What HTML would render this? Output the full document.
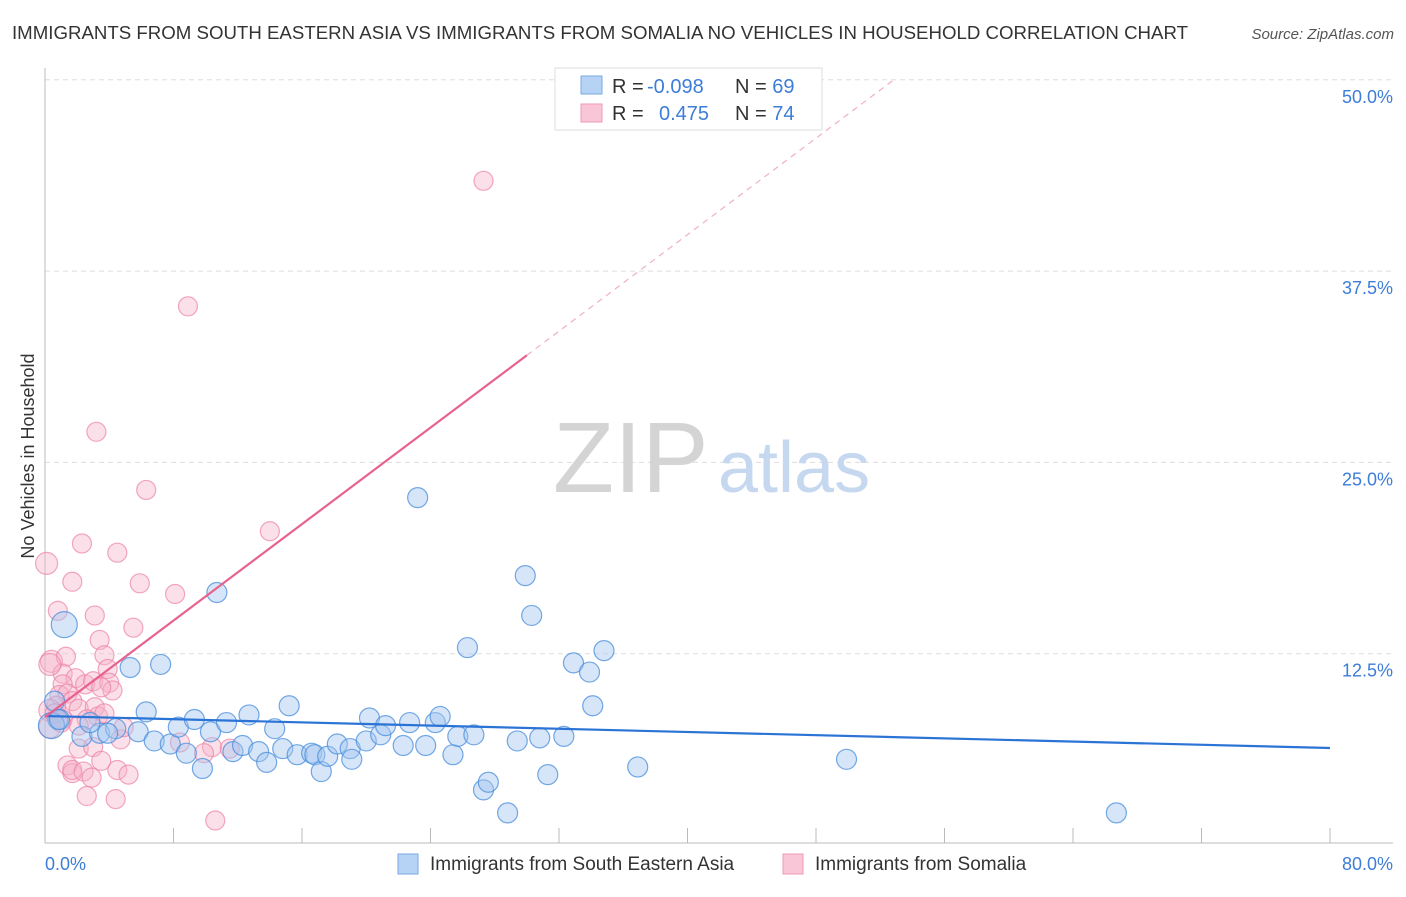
<!DOCTYPE html>
<html><head><meta charset="utf-8"><style>
body{margin:0;background:#fff;font-family:"Liberation Sans",sans-serif;}
svg text{font-family:"Liberation Sans",sans-serif;}
</style></head><body>
<svg width="1406" height="892" viewBox="0 0 1406 892">
<text x="12" y="39" font-size="18" fill="#333" textLength="1176" lengthAdjust="spacingAndGlyphs">IMMIGRANTS FROM SOUTH EASTERN ASIA VS IMMIGRANTS FROM SOMALIA NO VEHICLES IN HOUSEHOLD CORRELATION CHART</text>
<text x="1394" y="39" font-size="15" fill="#555" text-anchor="end" font-style="italic">Source: ZipAtlas.com</text>
<g id="grid"></g>
<text x="553" y="492" font-size="100" fill="#d4d4d4" font-family="Liberation Serif">ZIP</text>
<text x="718" y="492" font-size="72" fill="#c6d8f0">atlas</text>
<text transform="translate(34,456) rotate(-90)" font-size="18" fill="#333" text-anchor="middle">No Vehicles in Household</text>
<g id="pts"></g>
<g id="lines"></g>
<g>
<rect x="555" y="68" width="267" height="62" fill="#fff" stroke="#ddd"/>
<rect x="581" y="76" width="21" height="18" fill="#b6d2f5" stroke="#7aa9e6"/>
<rect x="581" y="104" width="21" height="18" fill="#f8c6d6" stroke="#ef9ab5"/>
<text x="612" y="93" font-size="20" fill="#333">R = <tspan x="647" fill="#3d7dd8">-0.098</tspan><tspan x="735">N = </tspan><tspan fill="#3d7dd8">69</tspan></text>
<text x="612" y="120" font-size="20" fill="#333">R = <tspan x="659" fill="#3d7dd8">0.475</tspan><tspan x="735">N = </tspan><tspan fill="#3d7dd8">74</tspan></text>
</g>
<g>
<rect x="398" y="854" width="20" height="20" fill="#b6d2f5" stroke="#7aa9e6"/>
<text x="430" y="870" font-size="19" fill="#333">Immigrants from South Eastern Asia</text>
<rect x="783" y="854" width="20" height="20" fill="#f8c6d6" stroke="#ef9ab5"/>
<text x="815" y="870" font-size="19" fill="#333">Immigrants from Somalia</text>
</g>
</svg>
<script>
const yTicks=[12.5,25,37.5,50];
const yTickLabels=["12.5%","25.0%","37.5%","50.0%"];
const xTickLabels=["0.0%","80.0%"];
const blueXv=[23.2,29.9,30.3,10.7,1.2,7.2,5.3,26.3,34.8,32.9,33.9,34.1,15.2,6.3,0.6,0.8,0.4,2.3,3.4,4.4,3.9,2.8,5.8,6.8,7.8,8.3,9.3,10.3,11.3,12.7,8.8,9.8,11.7,12.3,13.3,13.8,14.3,14.8,15.7,16.6,16.8,17.2,17.6,18.2,19.0,19.1,20.0,20.2,20.9,21.2,22.3,22.7,23.7,24.3,24.6,25.4,25.7,26.7,27.3,27.6,28.8,29.4,30.8,31.3,32.3,36.9,49.9,66.7,0.9];
const blueYv=[22.7,17.6,15.0,16.5,14.4,11.8,11.6,12.9,12.7,11.9,11.3,9.1,9.1,8.7,9.4,8.2,7.8,7.1,7.3,7.6,7.3,8.0,7.4,6.8,6.6,7.7,8.2,7.4,8.0,8.5,6.0,5.0,6.1,6.5,6.1,5.4,7.6,6.3,5.9,6.0,5.9,4.8,5.8,6.6,6.3,5.6,6.8,8.3,7.2,7.8,6.5,8.0,6.5,8.0,8.4,5.9,7.1,7.2,3.6,4.1,2.1,6.8,7.0,4.6,7.1,5.1,5.6,2.1,8.2];
const pinkXv=[27.3,8.9,3.2,6.3,14.0,2.3,4.5,0.1,1.7,5.9,8.1,0.8,3.1,5.5,3.4,0.4,1.3,1.1,0.3,3.7,3.9,1.9,1.1,2.5,3.0,4.0,4.2,3.5,0.9,1.4,1.7,0.7,0.3,2.1,3.1,3.3,3.7,2.6,1.1,0.3,2.1,4.7,4.9,2.1,3.0,8.4,10.4,11.5,9.9,1.4,1.7,1.7,2.4,2.9,4.5,5.2,3.5,2.6,4.4,10.6,1.0,0.6];
const pinkYv=[43.4,35.2,27.0,23.2,20.5,19.7,19.1,18.4,17.2,17.1,16.4,15.3,15.0,14.2,13.4,12.0,12.3,11.2,11.8,12.4,11.5,10.9,10.5,10.5,10.7,10.6,10.1,10.3,9.8,9.9,9.4,9.1,8.8,8.9,9.0,8.4,8.6,8.2,8.2,7.7,7.8,6.9,7.7,6.3,6.4,6.7,6.4,6.3,6.0,5.2,4.7,4.9,4.8,4.4,4.9,4.6,5.5,3.2,3.0,1.6,8.0,8.6];
const blueLine=[8.43,6.34];
const pinkLine=[8.36,0.788];
</script>
<script>
const NS="http://www.w3.org/2000/svg";
const X0=45,X1=1330,Y0=845,PXY=191.3/12.5;
function sx(v){return X0+v/80*(X1-X0);}
function sy(v){return Y0-v*PXY;}
function mk(tag,attrs,parent){const e=document.createElementNS(NS,tag);for(const k in attrs)e.setAttribute(k,attrs[k]);parent.appendChild(e);return e;}
const grid=document.getElementById('grid');
yTicks.forEach((t,i)=>{
 const l=mk('line',{x1:45,x2:1393,y1:sy(t),y2:sy(t),stroke:'#ddd','stroke-dasharray':'5,4'},grid);
 
 
 const tx=mk('text',{x:1393,y:sy(t)+23,'font-size':18,fill:'#3d7dd8','text-anchor':'end'},grid);
 tx.textContent=yTickLabels[i];
 
 
});
const ax=mk('line',{x1:45,x2:45,y1:68,y2:843,stroke:'#bbb'},grid);


const bx=mk('line',{x1:45,x2:1393,y1:843,y2:843,stroke:'#bbb'},grid);


for(let i=0;i<=10;i++){
 const t=mk('line',{x1:sx(i*8),x2:sx(i*8),y1:828,y2:843,stroke:'#bbb'},grid);
 
 
}
[[0,'start',45],[80,'end',1393]].forEach((d,i)=>{
 const t=mk('text',{x:d[2],y:870,'font-size':18,fill:'#3d7dd8','text-anchor':d[1]},grid);
 t.textContent=xTickLabels[i];
 
 
});
const pts=document.getElementById('pts');
pinkXv.forEach((x,i)=>{
 const c=mk('circle',{cx:sx(x),cy:sy(pinkYv[i]),r:(x<0.5?11:9.5),fill:'rgba(246,178,200,0.4)',stroke:'rgba(236,130,165,0.7)','stroke-width':1.2},pts);
 
 
});
blueXv.forEach((x,i)=>{
 const big=(i==4||i==16)?13:10;
 const c=mk('circle',{cx:sx(x),cy:sy(blueYv[i]),r:big,fill:'rgba(165,198,240,0.45)',stroke:'rgba(70,140,220,0.75)','stroke-width':1.2},pts);
 
 
});
const lines=document.getElementById('lines');
const bl=mk('line',{x1:sx(0),y1:sy(blueLine[0]),x2:sx(80),y2:sy(blueLine[1]),stroke:'#2b74d6','stroke-width':2.2},lines);


const solidEnd=30,capX=(50-pinkLine[0])/pinkLine[1];
const pl=mk('line',{x1:sx(0),y1:sy(pinkLine[0]),x2:sx(solidEnd),y2:sy(pinkLine[0]+pinkLine[1]*solidEnd),stroke:'#e8628f','stroke-width':2.2},lines);


const pd=mk('line',{x1:sx(solidEnd),y1:sy(pinkLine[0]+pinkLine[1]*solidEnd),x2:sx(capX),y2:sy(50),stroke:'#eeb0c4','stroke-width':1.2,'stroke-dasharray':'6,5'},lines);


</script>
</body></html>
